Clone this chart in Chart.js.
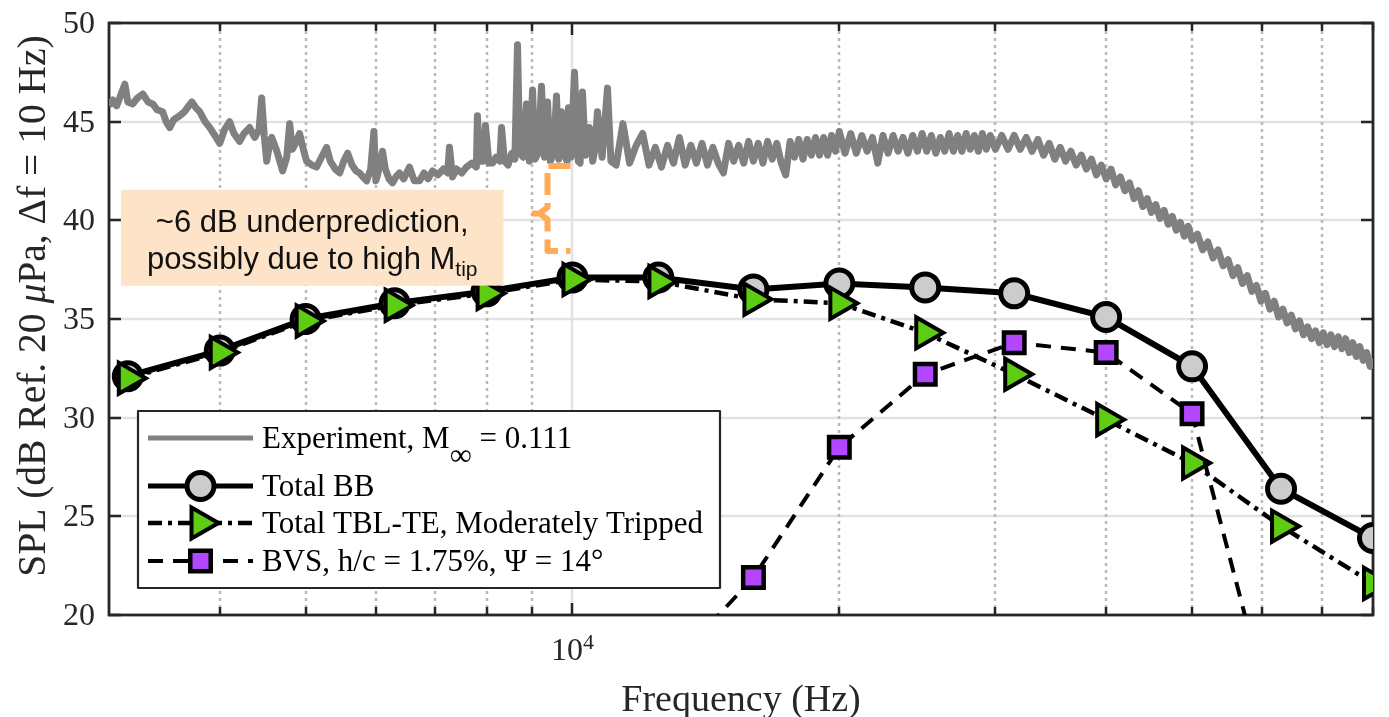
<!DOCTYPE html>
<html>
<head>
<meta charset="utf-8">
<script src="https://cdn.jsdelivr.net/npm/chart.js@4.4.1/dist/chart.umd.min.js"></script>
<style>
html,body{margin:0;padding:0;background:#ffffff;}
canvas{display:block;}
</style>
</head>
<body>
<canvas id="c" width="1389" height="717"></canvas>
<script>
// ---------------- data ----------------
const bandFreq = [3150,4000,5000,6300,8000,10000,12500,16000,20000,25000,31500,40000,50000,63000,80000];
const totalBB  = [32.1,33.4,35.0,35.8,36.4,37.1,37.1,36.5,36.8,36.6,36.3,35.1,32.6,26.4,23.9];
const tblTE    = [32.0,33.3,34.9,35.7,36.3,37.0,36.9,36.0,35.8,34.3,32.2,29.9,27.7,24.5,21.6];
const bvsFreq  = [12500,16000,20000,25000,31500,40000,50000,63000];
const bvsSpl   = [16.7,21.9,28.5,32.2,33.8,33.3,30.2,13.0];

// experiment, 3–11 kHz
const expFreqLow = [
3000,3030,3060,3090,3126,3150,3191,3230,3275,3320,3361,3400,3449,3480,3513,3550,3605,3650,3690,3720,
3760,3798,3850,3898,3950,4000,4050,4104,4150,4212,4260,4323,4380,4430,4460,4490,4519,4550,4578,4640,
4710,4760,4797,4830,4870,4922,4970,5012,5080,5144,5210,5280,5330,5400,5462,5520,5576,5640,5700,5753,
5800,5858,5920,5970,6000,6027,6060,6105,6150,6210,6266,6320,6381,6450,6548,6630,6721,6800,6870,6952,
7050,7150,7230,7265,7322,7400,7500,7592,7700,7790,7812,7850,7930,7976,8050,8124,8200,8280,8317,8380,
8460,8540,8610,8669,8720,8800,8873,8940,9015,9070,9150,9226,9300,9372,9440,9520,9593,9650,9718,9800,
9860,9897,9960,10052,10150,10200,10263,10340,10451,10540,10600,10670,10800,10952,11050
];
const expSplLow = [
45.8,46.1,45.8,46.3,46.9,46.0,45.9,46.2,46.4,46.0,45.9,45.6,45.5,45.0,44.7,45.1,45.3,45.5,45.8,46.0,
45.7,45.5,45.0,44.7,44.3,43.9,44.6,45.0,44.4,44.0,44.4,44.7,44.2,44.6,46.2,44.3,43.0,43.8,44.2,43.5,
42.5,43.2,44.9,43.6,43.9,44.4,43.6,43.0,42.8,42.7,43.2,43.7,43.0,42.6,42.4,43.0,43.4,42.8,42.5,42.4,
42.2,42.0,42.6,44.5,42.0,42.3,42.8,43.5,42.6,42.1,41.9,42.2,42.4,42.1,42.7,42.0,42.0,42.4,42.1,42.5,
42.3,42.6,42.4,43.7,42.2,42.6,42.4,42.7,42.9,42.7,45.3,43.0,43.0,44.8,42.9,42.9,43.2,43.0,44.7,43.0,
42.8,43.4,43.1,48.9,43.4,43.2,45.9,43.0,46.6,43.1,43.4,46.8,43.2,46.0,43.0,43.4,46.3,43.1,45.5,43.3,
43.0,45.7,43.2,47.5,43.0,42.9,46.5,43.3,44.7,43.0,43.6,45.5,43.2,46.7,43.0
];
// experiment, 11–80 kHz
const expFreqHigh = [
11200,11400,11600,11800,12000,12200,12400,12600,12800,13000,13200,13400,13600,13800,14000,14200,14400,14600,14800,15000,
15200,15400,15600,15800,16000,16200,16400,16600,16800,17000,17200,17400,17600,17800,18000,18200,18400,18600,18800,19000,
19200,19400,19600,19800,20000,
20300,20600,20900,21200,21500,21800,22100,22400,22700,23000,23300,23600,23900,24200,24500,24800,25100,25400,25700,26000,
26300,26600,26900,27200,27500,27800,28100,28400,28700,29000,29300,29600,30000,
30500,31000,31500,32000,32500,33000,33500,34000,34500,35000,35500,36000,36500,37000,37500,38000,38500,39000,39500,40000,
40500,41000,41500,42000,42500,43000,43500,44000,44500,45000,45500,46000,46500,47000,47500,48000,48500,49000,49500,50000,
50700,51400,52100,52800,53500,54200,54900,55600,56300,57000,57700,58400,59100,59800,60500,61200,61900,62600,63300,64000,
64700,65400,66100,66800,67500,68200,68900,69600,70300,71000,71700,72400,73100,73800,74500,75200,75900,76600,77300,78000,
78700,79400,80000
];
const expSplHigh = [
42.8,44.9,42.9,43.8,44.4,42.8,43.7,42.7,43.8,42.9,44.2,42.8,43.8,42.9,43.9,42.8,43.7,42.9,42.4,43.9,
43.0,43.8,42.9,44.0,43.0,43.9,42.9,44.0,43.1,43.9,42.9,42.3,44.0,43.2,44.1,43.1,44.1,43.3,44.2,43.3,
44.2,43.3,44.3,43.5,44.5,
43.4,44.4,43.4,44.3,43.5,44.2,42.9,44.3,43.4,44.3,43.5,44.2,43.4,44.3,43.5,44.4,43.5,44.3,43.4,44.2,
43.5,44.4,43.5,44.3,43.5,44.4,43.6,44.3,43.5,44.4,43.6,44.3,43.6,
44.3,43.6,44.3,43.6,44.2,43.5,44.1,43.3,43.9,43.1,43.7,43.0,43.5,42.8,43.3,42.6,43.1,42.3,42.8,42.1,
42.6,41.8,42.2,41.5,41.9,41.1,41.5,40.7,41.1,40.4,40.8,40.1,40.5,39.8,40.2,39.5,39.9,39.2,39.7,39.0,
39.3,38.5,38.9,38.1,38.5,37.7,38.0,37.2,37.6,36.8,37.2,36.4,36.7,35.9,36.3,35.5,35.9,35.1,35.5,34.8,
35.2,34.5,34.9,34.2,34.6,34.0,34.4,33.8,34.3,33.7,34.2,33.6,34.1,33.5,34.0,33.3,33.8,33.1,33.6,32.9,
33.3,32.6,33.0
];

const xTickValues = [4000,5000,6000,7000,8000,9000,10000,20000,30000,40000,50000,60000,70000,80000];
const yTickValues = [20,25,30,35,40,45,50];

// ---------------- styling helpers ----------------
const SERIF = '"Liberation Serif","Times New Roman",serif';
const SANS  = '"Liberation Sans",Arial,sans-serif';
const AXC = '#262626';

const annotationCfg = {
  box: {x0: 3094, x1: 8360, y0: 41.55, y1: 36.69, fill: '#fde4c8'},
  lines: ['~6 dB underprediction,', 'possibly due to high M_{tip}'],
  bracket: {xv: 9372, xr: 9948, xl: 8828, yt: 42.75, ym: 40.35, yb: 38.45, color: '#ffab57'}
};

function isPow10(v){ const l = Math.log10(v); return Math.abs(l - Math.round(l)) < 1e-9; }

function richParts(text, font, subFont, subDy){
  const parts = [];
  const re = /_\{([^}]*)\}/g;
  let last = 0, m;
  while ((m = re.exec(text)) !== null){
    if (m.index > last) parts.push({t: text.slice(last, m.index), f: font, dy: 0});
    parts.push({t: m[1], f: subFont, dy: subDy});
    last = re.lastIndex;
  }
  if (last < text.length) parts.push({t: text.slice(last), f: font, dy: 0});
  return parts;
}
function drawParts(ctx, parts, x, y, align){
  let w = 0;
  parts.forEach(p => { ctx.font = p.f; p.w = ctx.measureText(p.t).width; w += p.w; });
  let cx = align === 'center' ? x - w / 2 : (align === 'right' ? x - w : x);
  ctx.textAlign = 'left';
  parts.forEach(p => { ctx.font = p.f; ctx.fillText(p.t, cx, y + p.dy); cx += p.w; });
  return w;
}
function drawMarker(ctx, style, r, rotDeg, x, y){
  ctx.beginPath();
  if (style === 'circle'){
    ctx.arc(x, y, r, 0, Math.PI * 2);
  } else if (style === 'triangle'){
    let a = (rotDeg || 0) * Math.PI / 180;
    for (let k = 0; k < 3; k++){
      const px = x + Math.sin(a) * r, py = y - Math.cos(a) * r;
      if (k === 0) ctx.moveTo(px, py); else ctx.lineTo(px, py);
      a += 2 * Math.PI / 3;
    }
    ctx.closePath();
  } else if (style === 'rect'){
    const s = r * Math.SQRT1_2;
    ctx.rect(x - s, y - s, 2 * s, 2 * s);
  }
  ctx.fill();
  ctx.stroke();
}
function seg(ctx, x0, y0, x1, y1){ ctx.beginPath(); ctx.moveTo(x0, y0); ctx.lineTo(x1, y1); ctx.stroke(); }

// ---------------- plugin: MATLAB-like axes, annotation, legend ----------------
const matlabLook = {
  id: 'matlabLook',
  beforeDatasetsDraw(chart){
    const {ctx, chartArea: a, scales: {x, y}} = chart;
    ctx.save();
    ctx.lineCap = 'butt';
    ctx.strokeStyle = '#e2e2e2'; ctx.lineWidth = 2.5;
    y.ticks.forEach(t => {
      const py = Math.round(y.getPixelForValue(t.value));
      if (py <= a.top + 1 || py >= a.bottom - 1) return;
      seg(ctx, a.left, py, a.right, py);
    });
    x.ticks.forEach(t => {
      const px = Math.round(x.getPixelForValue(t.value));
      if (px <= a.left + 1 || px >= a.right - 1) return;
      if (isPow10(t.value)){ ctx.setLineDash([]); ctx.strokeStyle = '#e2e2e2'; }
      else { ctx.setLineDash([3, 4]); ctx.strokeStyle = '#b9b9b9'; }
      ctx.lineWidth = 2.5;
      seg(ctx, px, a.bottom, px, a.top);
    });
    ctx.setLineDash([]);
    ctx.strokeStyle = AXC; ctx.lineWidth = 2.8;
    ctx.strokeRect(a.left, a.top, a.right - a.left, a.bottom - a.top);
    ctx.lineWidth = 2.5;
    x.ticks.forEach(t => {
      const px = Math.round(x.getPixelForValue(t.value));
      const len = isPow10(t.value) ? 12 : 8;
      seg(ctx, px, a.bottom, px, a.bottom - len);
      seg(ctx, px, a.top, px, a.top + len);
    });
    y.ticks.forEach(t => {
      const py = Math.round(y.getPixelForValue(t.value));
      seg(ctx, a.left, py, a.left + 12, py);
      seg(ctx, a.right, py, a.right - 12, py);
    });
    ctx.fillStyle = AXC;
    ctx.textBaseline = 'alphabetic';
    ctx.textAlign = 'right';
    ctx.font = '32px ' + SERIF;
    y.ticks.forEach(t => {
      const py = y.getPixelForValue(t.value);
      ctx.fillText(String(t.value), a.left - 14, py + 10);
    });
    x.ticks.forEach(t => {
      if (!isPow10(t.value)) return;
      const px = x.getPixelForValue(t.value);
      const e = Math.round(Math.log10(t.value));
      drawParts(ctx, [
        {t: '10', f: '32px ' + SERIF, dy: 0},
        {t: String(e), f: '22px ' + SERIF, dy: -11}
      ], px, a.bottom + 45, 'center');
    });
    ctx.font = '38px ' + SERIF;
    ctx.textAlign = 'center';
    ctx.fillText('Frequency (Hz)', (a.left + a.right) / 2, 711);
    ctx.save();
    ctx.translate(45, (a.top + a.bottom) / 2 - 13);
    ctx.rotate(-Math.PI / 2);
    drawParts(ctx, [
      {t: 'SPL (dB Ref. 20 ', f: '39.5px ' + SERIF, dy: 0},
      {t: 'μ', f: 'italic 39.5px ' + SERIF, dy: 0},
      {t: 'Pa, Δf = 10 Hz)', f: '39.5px ' + SERIF, dy: 0}
    ], 0, 0, 'center');
    ctx.restore();
    ctx.restore();
  },
  afterDatasetsDraw(chart){
    const {ctx, chartArea: a, scales: {x, y}} = chart;
    ctx.save();
    const B = annotationCfg.box;
    const bx0 = x.getPixelForValue(B.x0), bx1 = x.getPixelForValue(B.x1);
    const by0 = y.getPixelForValue(B.y0), by1 = y.getPixelForValue(B.y1);
    ctx.fillStyle = B.fill;
    ctx.fillRect(bx0, by0, bx1 - bx0, by1 - by0);
    ctx.fillStyle = '#111111';
    ctx.textBaseline = 'alphabetic';
    const cxBox = (bx0 + bx1) / 2;
    drawParts(ctx, richParts(annotationCfg.lines[0], '31px ' + SANS, '21px ' + SANS, 7), cxBox, by0 + 42, 'center');
    drawParts(ctx, richParts(annotationCfg.lines[1], '31px ' + SANS, '21px ' + SANS, 7), cxBox, by0 + 79, 'center');
    const K = annotationCfg.bracket;
    const xv = x.getPixelForValue(K.xv), xr = x.getPixelForValue(K.xr), xl = x.getPixelForValue(K.xl);
    const yt = y.getPixelForValue(K.yt), ym = y.getPixelForValue(K.ym), yb = y.getPixelForValue(K.yb);
    ctx.strokeStyle = K.color; ctx.lineWidth = 6; ctx.setLineDash([22, 8]);
    ctx.lineJoin = 'round';
    ctx.beginPath();
    ctx.moveTo(xr, yt); ctx.lineTo(xv, yt); ctx.lineTo(xv, ym - 6); ctx.lineTo(xv - 8, ym); ctx.lineTo(xl, ym);
    ctx.stroke();
    ctx.beginPath();
    ctx.moveTo(xv - 8, ym); ctx.lineTo(xv, ym + 6); ctx.lineTo(xv, yb); ctx.lineTo(xr, yb);
    ctx.stroke();
    ctx.setLineDash([]);
    const L = {left: a.left + 29, top: a.top + 388, w: 582, h: 177, rows: [27, 75, 112, 150]};
    ctx.fillStyle = '#ffffff';
    ctx.fillRect(L.left, L.top, L.w, L.h);
    ctx.strokeStyle = AXC; ctx.lineWidth = 2.2;
    ctx.strokeRect(L.left, L.top, L.w, L.h);
    chart.data.datasets.forEach((ds, i) => {
      const ry = L.top + L.rows[i];
      const sx0 = L.left + 10, sx1 = L.left + 115, mx = (sx0 + sx1) / 2;
      ctx.strokeStyle = ds.borderColor; ctx.lineWidth = Math.min(ds.borderWidth, 5);
      ctx.setLineDash(ds.borderDash || []);
      seg(ctx, sx0, ry, sx1, ry);
      ctx.setLineDash([]);
      if (ds.pointRadius > 0){
        ctx.fillStyle = ds.pointBackgroundColor;
        ctx.strokeStyle = ds.pointBorderColor;
        ctx.lineWidth = ds.pointBorderWidth;
        ctx.lineJoin = 'miter';
        drawMarker(ctx, ds.pointStyle, ds.pointRadius, ds.pointRotation || 0, mx, ry);
      }
      ctx.fillStyle = '#000000';
      drawParts(ctx, richParts(ds.label, '31px ' + SERIF, '31px ' + SERIF, 17), L.left + 124, ry + 10, 'left');
    });
    ctx.restore();
  }
};

// ---------------- chart ----------------
const xy = (xs, ys) => xs.map((v, i) => ({x: v, y: ys[i]}));

new Chart(document.getElementById('c'), {
  type: 'line',
  data: {
    datasets: [
      {
        label: 'Experiment, M_{∞} = 0.111',
        data: xy(expFreqLow.concat(expFreqHigh), expSplLow.concat(expSplHigh)),
        borderColor: '#808080', borderWidth: 7, borderJoinStyle: 'round',
        pointRadius: 0, pointHoverRadius: 0,
        tension: 0, order: 4
      },
      {
        label: 'Total BB',
        data: xy(bandFreq, totalBB),
        borderColor: '#000000', borderWidth: 6,
        pointStyle: 'circle', pointRadius: 13.5, pointHoverRadius: 13.5,
        pointBorderWidth: 5, pointBorderColor: '#000000', pointBackgroundColor: '#cccccc',
        tension: 0, order: 3
      },
      {
        label: 'Total TBL-TE, Moderately Tripped',
        data: xy(bandFreq, tblTE),
        borderColor: '#000000', borderWidth: 4.5, borderDash: [14, 6, 4, 6],
        pointStyle: 'triangle', pointRotation: 90, pointRadius: 18, pointHoverRadius: 18,
        pointBorderWidth: 4, pointBorderColor: '#000000', pointBackgroundColor: '#5fcc14',
        tension: 0, order: 2
      },
      {
        label: 'BVS, h/c = 1.75%, Ψ = 14°',
        data: xy(bvsFreq, bvsSpl),
        borderColor: '#000000', borderWidth: 4, borderDash: [15, 10],
        pointStyle: 'rect', pointRadius: 14.5, pointHoverRadius: 14.5,
        pointBorderWidth: 4.5, pointBorderColor: '#000000', pointBackgroundColor: '#b347ff',
        tension: 0, order: 1, clip: 0
      }
    ]
  },
  options: {
    responsive: false,
    animation: false,
    devicePixelRatio: 1,
    events: [],
    layout: {autoPadding: false, padding: {top: 23, right: 16, left: 0, bottom: 0}},
    scales: {
      x: {
        type: 'logarithmic', min: 3000, max: 80000, position: 'bottom',
        afterBuildTicks: s => { s.ticks = xTickValues.map(v => ({value: v})); },
        afterFit: s => { s.height = 102; },
        ticks: {display: false}, grid: {display: false}, border: {display: false}
      },
      y: {
        type: 'linear', min: 20, max: 50, position: 'left',
        afterBuildTicks: s => { s.ticks = yTickValues.map(v => ({value: v})); },
        afterFit: s => { s.width = 109; },
        ticks: {display: false}, grid: {display: false}, border: {display: false}
      }
    },
    plugins: {legend: {display: false}, tooltip: {enabled: false}}
  },
  plugins: [matlabLook]
});
</script>
</body>
</html>
